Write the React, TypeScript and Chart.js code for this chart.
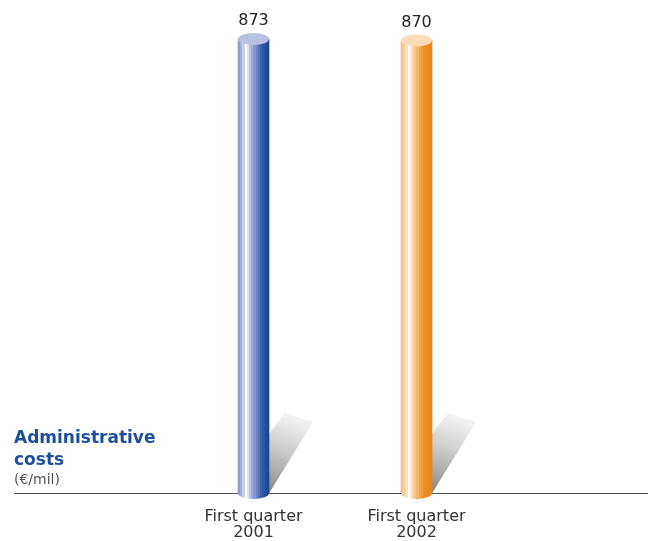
import React, { useEffect, useRef } from "react";
import { Chart, registerables } from "chart.js";

Chart.register(...registerables);

const categories: string[][] = [
  ["First quarter", "2001"],
  ["First quarter", "2002"],
];
const values: number[] = [873, 870];
const valueLabels: string[] = ["873", "870"];
const titleLines: string[] = ["Administrative", "costs"];
const unitLabel = "(€/mil)";

// banded cylinder shading (band colours, left to right)
const bodyBands: string[][] = [
  ["#8f9ed1", "#a6b2de", "#c7cfeb", "#ffffff", "#dde2f3", "#bac4e6", "#9dacda", "#8396cf", "#6c83c3", "#5572b7", "#3f62ab", "#2b56a2", "#1d4d9b", "#1a4996"],
  ["#f6c38f", "#f8cfa4", "#fbe0c5", "#ffffff", "#fde9d6", "#fbd6af", "#f9c48c", "#f6b36c", "#f3a24d", "#f09737", "#ee8f28", "#ed8b21", "#ec891e", "#ea871c"],
];
const topColors: string[] = ["#b8c1e3", "#fddcba"];
const solidColors: string[] = ["#3d63ab", "#ee8c22"];

const HALF_W = 15.5;
const RY = 6;

function makeGradient(c: CanvasRenderingContext2D, cx: number, i: number) {
  const g = c.createLinearGradient(cx - HALF_W, 0, cx + HALF_W, 0);
  const bands = bodyBands[i];
  const n = bands.length;
  bands.forEach((col, k) => {
    g.addColorStop(k / n, col);
    g.addColorStop(Math.min(1, (k + 1) / n - 0.001), col);
  });
  return g;
}

const cylinderPlugin = {
  id: "cylinders",
  beforeDatasetsDraw(chart: any) {
    const c: CanvasRenderingContext2D = chart.ctx;
    const meta = chart.getDatasetMeta(0);
    const base = chart.scales.y.getPixelForValue(0);
    c.save();
    c.strokeStyle = "#555555";
    c.lineWidth = 1.2;
    c.beginPath();
    c.moveTo(14, Math.round(base) + 0.5);
    c.lineTo(648, Math.round(base) + 0.5);
    c.stroke();
    meta.data.forEach((bar: any) => {
      const rx = bar.x + HALF_W - 1;
      const b = bar.base;
      const g = c.createLinearGradient(rx, b, rx + 30, b - 80);
      g.addColorStop(0, "rgba(125,125,125,0.95)");
      g.addColorStop(0.5, "rgba(185,185,185,0.8)");
      g.addColorStop(1, "rgba(240,240,240,0.6)");
      c.fillStyle = g;
      c.beginPath();
      c.moveTo(rx, b + 2);
      c.lineTo(rx, b - 58);
      c.lineTo(rx + 17, b - 80);
      c.lineTo(rx + 45, b - 71);
      c.closePath();
      c.fill();
    });
    c.restore();
  },
  afterDatasetsDraw(chart: any) {
    const c: CanvasRenderingContext2D = chart.ctx;
    const meta = chart.getDatasetMeta(0);
    c.save();
    meta.data.forEach((bar: any, i: number) => {
      const cx = bar.x;
      c.fillStyle = makeGradient(c, cx, i);
      c.beginPath();
      c.ellipse(cx, bar.base, HALF_W, RY, 0, 0, Math.PI);
      c.closePath();
      c.fill();
      c.fillStyle = topColors[i];
      c.beginPath();
      c.ellipse(cx, bar.y, HALF_W, RY, 0, 0, Math.PI * 2);
      c.fill();
      c.fillStyle = "#222222";
      c.font = "16px 'DejaVu Sans'";
      c.textAlign = "center";
      c.textBaseline = "alphabetic";
      c.fillText(valueLabels[i], cx, bar.y - 14);
    });
    c.textAlign = "left";
    c.textBaseline = "alphabetic";
    c.fillStyle = "#1d4f9d";
    c.font = "bold 17px 'DejaVu Sans'";
    c.fillText(titleLines[0], 14, 443);
    c.fillText(titleLines[1], 14, 465);
    c.fillStyle = "#555555";
    c.font = "14px 'DejaVu Sans'";
    c.fillText(unitLabel, 14, 484);
    c.restore();
  },
};

export default function App() {
  const ref = useRef<HTMLCanvasElement>(null);
  useEffect(() => {
    if (!ref.current) return;
    const chart = new Chart(ref.current, {
      type: "bar",
      data: {
        labels: categories as any,
        datasets: [
          {
            data: values,
            barThickness: 31,
            borderWidth: 0,
            backgroundColor: (ctx: any) => {
              const ch = ctx.chart;
              const xs = ch.scales && ch.scales.x;
              if (!ch.chartArea || !xs) return solidColors[ctx.dataIndex];
              const cx = xs.getPixelForValue(ctx.dataIndex);
              return makeGradient(ch.ctx, cx, ctx.dataIndex);
            },
          } as any,
        ],
      },
      options: {
        responsive: false,
        animation: false,
        layout: { padding: { left: 172, right: 153, top: 39, bottom: 0 } },
        plugins: { legend: { display: false }, tooltip: { enabled: false } },
        scales: {
          x: {
            grid: { display: false, drawTicks: false },
            border: { display: false },
            ticks: {
              color: "#333333",
              font: { family: "'DejaVu Sans'", size: 16, lineHeight: 1.0 },
              padding: 16,
              maxRotation: 0,
              autoSkip: false,
            },
            afterFit: (s: any) => {
              s.height = 48;
            },
          },
          y: { display: false, min: 0, max: 873 },
        },
      },
      plugins: [cylinderPlugin],
    });
    return () => chart.destroy();
  }, []);
  return (
    <div style={{ position: "absolute", left: 0, top: 0, width: 651, height: 541, background: "#fff" }}>
      <canvas ref={ref} width={651} height={541} style={{ display: "block" }} />
    </div>
  );
}
